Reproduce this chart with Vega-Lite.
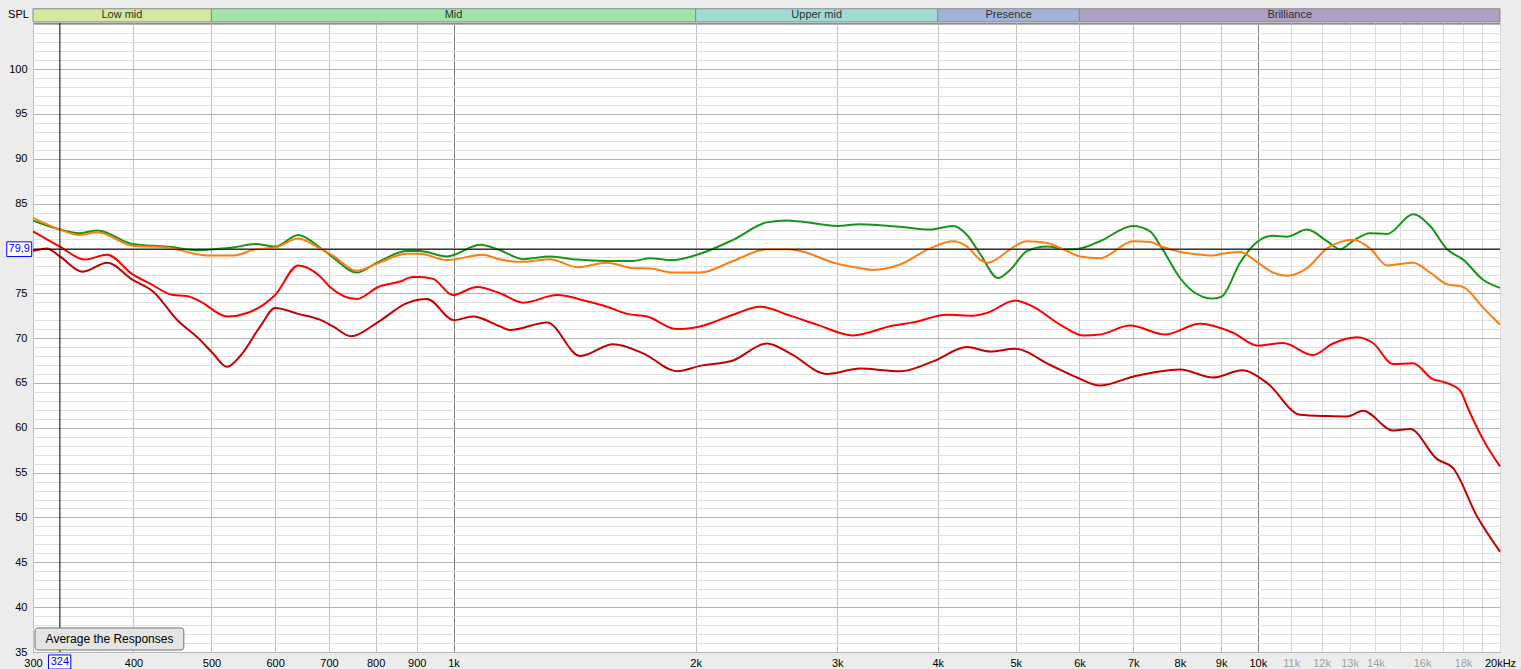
{
  "$schema": "https://vega.github.io/schema/vega-lite/v6.json",
  "width": 1467,
  "height": 629,
  "autosize": "none",
  "padding": {"left": 33, "top": 23, "right": 21, "bottom": 17},
  "background": "#ececec",
  "config": {
    "view": {"fill": "white", "stroke": "#8a8a8a", "strokeWidth": 1},
    "font": "Liberation Sans"
  },
  "resolve": {"axis": {"x": "independent", "y": "independent"}},
  "datasets": {
    "curves": [
      {"s":"g","f":300,"v":83.1},{"s":"g","f":324,"v":82.1},{"s":"g","f":343,"v":81.7},{"s":"g","f":361,"v":82.0},{"s":"g","f":399,"v":80.5},{"s":"g","f":440,"v":80.2},{"s":"g","f":484,"v":79.8},{"s":"g","f":502,"v":79.9},{"s":"g","f":532,"v":80.1},{"s":"g","f":567,"v":80.5},{"s":"g","f":600,"v":80.2},{"s":"g","f":641,"v":81.5},{"s":"g","f":682,"v":80.1},{"s":"g","f":708,"v":79.0},{"s":"g","f":758,"v":77.3},{"s":"g","f":803,"v":78.4},{"s":"g","f":875,"v":79.7},{"s":"g","f":908,"v":79.7},{"s":"g","f":981,"v":79.1},{"s":"g","f":1080,"v":80.4},{"s":"g","f":1142,"v":79.8},{"s":"g","f":1220,"v":78.8},{"s":"g","f":1318,"v":79.1},{"s":"g","f":1424,"v":78.75},{"s":"g","f":1552,"v":78.6},{"s":"g","f":1672,"v":78.6},{"s":"g","f":1755,"v":78.9},{"s":"g","f":1874,"v":78.7},{"s":"g","f":2025,"v":79.4},{"s":"g","f":2226,"v":80.95},{"s":"g","f":2453,"v":82.9},{"s":"g","f":2597,"v":83.1},{"s":"g","f":2696,"v":83.0},{"s":"g","f":2997,"v":82.5},{"s":"g","f":3202,"v":82.7},{"s":"g","f":3590,"v":82.4},{"s":"g","f":3912,"v":82.1},{"s":"g","f":4178,"v":82.5},{"s":"g","f":4349,"v":81.5},{"s":"g","f":4514,"v":79.4},{"s":"g","f":4753,"v":76.7},{"s":"g","f":4919,"v":77.6},{"s":"g","f":5164,"v":79.7},{"s":"g","f":5468,"v":80.2},{"s":"g","f":5791,"v":79.9},{"s":"g","f":6010,"v":80.0},{"s":"g","f":6363,"v":80.8},{"s":"g","f":6995,"v":82.5},{"s":"g","f":7344,"v":81.9},{"s":"g","f":7600,"v":80.0},{"s":"g","f":8003,"v":76.7},{"s":"g","f":8306,"v":75.2},{"s":"g","f":8795,"v":74.4},{"s":"g","f":9024,"v":74.65},{"s":"g","f":9502,"v":78.4},{"s":"g","f":10004,"v":80.8},{"s":"g","f":10443,"v":81.4},{"s":"g","f":10870,"v":81.3},{"s":"g","f":11512,"v":82.1},{"s":"g","f":12190,"v":80.8},{"s":"g","f":12653,"v":79.9},{"s":"g","f":13132,"v":80.85},{"s":"g","f":13787,"v":81.7},{"s":"g","f":14475,"v":81.6},{"s":"g","f":15594,"v":83.8},{"s":"g","f":16372,"v":82.5},{"s":"g","f":17189,"v":79.9},{"s":"g","f":17995,"v":78.75},{"s":"g","f":19056,"v":76.5},{"s":"g","f":20000,"v":75.6},

      {"s":"o","f":300,"v":83.4},{"s":"o","f":324,"v":82.1},{"s":"o","f":343,"v":81.5},{"s":"o","f":361,"v":81.8},{"s":"o","f":399,"v":80.3},{"s":"o","f":440,"v":80.1},{"s":"o","f":484,"v":79.3},{"s":"o","f":502,"v":79.2},{"s":"o","f":532,"v":79.2},{"s":"o","f":567,"v":79.9},{"s":"o","f":600,"v":80.1},{"s":"o","f":641,"v":81.1},{"s":"o","f":682,"v":80.0},{"s":"o","f":708,"v":79.2},{"s":"o","f":758,"v":77.5},{"s":"o","f":803,"v":78.3},{"s":"o","f":875,"v":79.4},{"s":"o","f":908,"v":79.4},{"s":"o","f":981,"v":78.7},{"s":"o","f":1088,"v":79.3},{"s":"o","f":1142,"v":78.75},{"s":"o","f":1220,"v":78.5},{"s":"o","f":1318,"v":78.8},{"s":"o","f":1424,"v":77.9},{"s":"o","f":1552,"v":78.4},{"s":"o","f":1672,"v":77.8},{"s":"o","f":1755,"v":77.75},{"s":"o","f":1874,"v":77.3},{"s":"o","f":2025,"v":77.3},{"s":"o","f":2226,"v":78.6},{"s":"o","f":2453,"v":79.9},{"s":"o","f":2597,"v":79.9},{"s":"o","f":2696,"v":79.7},{"s":"o","f":2997,"v":78.3},{"s":"o","f":3202,"v":77.8},{"s":"o","f":3323,"v":77.6},{"s":"o","f":3590,"v":78.2},{"s":"o","f":3912,"v":80.0},{"s":"o","f":4178,"v":80.8},{"s":"o","f":4349,"v":80.2},{"s":"o","f":4514,"v":78.75},{"s":"o","f":4618,"v":78.4},{"s":"o","f":4753,"v":78.9},{"s":"o","f":4919,"v":79.9},{"s":"o","f":5164,"v":80.8},{"s":"o","f":5468,"v":80.6},{"s":"o","f":5791,"v":79.7},{"s":"o","f":6010,"v":79.1},{"s":"o","f":6363,"v":78.9},{"s":"o","f":6995,"v":80.8},{"s":"o","f":7344,"v":80.7},{"s":"o","f":7600,"v":80.2},{"s":"o","f":8003,"v":79.6},{"s":"o","f":8306,"v":79.4},{"s":"o","f":8795,"v":79.2},{"s":"o","f":9024,"v":79.4},{"s":"o","f":9502,"v":79.6},{"s":"o","f":10004,"v":78.4},{"s":"o","f":10443,"v":77.3},{"s":"o","f":10870,"v":76.95},{"s":"o","f":11512,"v":77.8},{"s":"o","f":12190,"v":80.0},{"s":"o","f":12653,"v":80.7},{"s":"o","f":13132,"v":80.95},{"s":"o","f":13787,"v":80.0},{"s":"o","f":14475,"v":78.1},{"s":"o","f":15594,"v":78.4},{"s":"o","f":16372,"v":77.3},{"s":"o","f":17189,"v":76.0},{"s":"o","f":17995,"v":75.7},{"s":"o","f":19056,"v":73.4},{"s":"o","f":20000,"v":71.5},

      {"s":"r","f":300,"v":81.9},{"s":"r","f":324,"v":80.2},{"s":"r","f":348,"v":78.75},{"s":"r","f":371,"v":79.3},{"s":"r","f":399,"v":77.1},{"s":"r","f":419,"v":76.1},{"s":"r","f":448,"v":74.8},{"s":"r","f":466,"v":74.7},{"s":"r","f":484,"v":74.1},{"s":"r","f":523,"v":72.4},{"s":"r","f":554,"v":72.8},{"s":"r","f":580,"v":73.7},{"s":"r","f":600,"v":74.8},{"s":"r","f":641,"v":78.1},{"s":"r","f":682,"v":76.9},{"s":"r","f":702,"v":75.7},{"s":"r","f":758,"v":74.35},{"s":"r","f":806,"v":75.7},{"s":"r","f":858,"v":76.3},{"s":"r","f":890,"v":76.8},{"s":"r","f":908,"v":76.8},{"s":"r","f":943,"v":76.6},{"s":"r","f":998,"v":74.8},{"s":"r","f":1069,"v":75.7},{"s":"r","f":1142,"v":75.0},{"s":"r","f":1220,"v":73.95},{"s":"r","f":1345,"v":74.8},{"s":"r","f":1466,"v":74.1},{"s":"r","f":1552,"v":73.5},{"s":"r","f":1644,"v":72.7},{"s":"r","f":1740,"v":72.4},{"s":"r","f":1896,"v":71.0},{"s":"r","f":2025,"v":71.3},{"s":"r","f":2226,"v":72.6},{"s":"r","f":2404,"v":73.5},{"s":"r","f":2620,"v":72.5},{"s":"r","f":2830,"v":71.5},{"s":"r","f":3138,"v":70.3},{"s":"r","f":3519,"v":71.4},{"s":"r","f":3726,"v":71.75},{"s":"r","f":4107,"v":72.6},{"s":"r","f":4424,"v":72.5},{"s":"r","f":4605,"v":72.8},{"s":"r","f":4990,"v":74.2},{"s":"r","f":5254,"v":73.5},{"s":"r","f":5676,"v":71.5},{"s":"r","f":6062,"v":70.3},{"s":"r","f":6363,"v":70.4},{"s":"r","f":6935,"v":71.4},{"s":"r","f":7666,"v":70.4},{"s":"r","f":8474,"v":71.6},{"s":"r","f":9313,"v":70.6},{"s":"r","f":10004,"v":69.15},{"s":"r","f":10747,"v":69.45},{"s":"r","f":11711,"v":68.1},{"s":"r","f":12401,"v":69.4},{"s":"r","f":13283,"v":70.1},{"s":"r","f":13906,"v":69.45},{"s":"r","f":14726,"v":67.1},{"s":"r","f":15594,"v":67.2},{"s":"r","f":16513,"v":65.4},{"s":"r","f":16849,"v":65.2},{"s":"r","f":17487,"v":64.7},{"s":"r","f":17892,"v":64.0},{"s":"r","f":18202,"v":62.4},{"s":"r","f":19056,"v":58.7},{"s":"r","f":20000,"v":55.7},

      {"s":"d","f":300,"v":79.7},{"s":"d","f":312,"v":80.0},{"s":"d","f":324,"v":79.1},{"s":"d","f":346,"v":77.4},{"s":"d","f":371,"v":78.4},{"s":"d","f":399,"v":76.5},{"s":"d","f":423,"v":75.2},{"s":"d","f":453,"v":72.05},{"s":"d","f":484,"v":69.8},{"s":"d","f":502,"v":68.3},{"s":"d","f":523,"v":66.8},{"s":"d","f":543,"v":68.0},{"s":"d","f":575,"v":71.3},{"s":"d","f":600,"v":73.35},{"s":"d","f":641,"v":72.7},{"s":"d","f":682,"v":72.05},{"s":"d","f":708,"v":71.3},{"s":"d","f":746,"v":70.2},{"s":"d","f":803,"v":71.7},{"s":"d","f":875,"v":73.9},{"s":"d","f":908,"v":74.3},{"s":"d","f":927,"v":74.35},{"s":"d","f":1001,"v":72.0},{"s":"d","f":1057,"v":72.4},{"s":"d","f":1142,"v":71.3},{"s":"d","f":1175,"v":70.9},{"s":"d","f":1307,"v":71.75},{"s":"d","f":1437,"v":68.0},{"s":"d","f":1579,"v":69.3},{"s":"d","f":1721,"v":68.3},{"s":"d","f":1896,"v":66.3},{"s":"d","f":2025,"v":66.9},{"s":"d","f":2226,"v":67.5},{"s":"d","f":2453,"v":69.4},{"s":"d","f":2620,"v":68.3},{"s":"d","f":2913,"v":66.0},{"s":"d","f":3202,"v":66.6},{"s":"d","f":3590,"v":66.3},{"s":"d","f":3946,"v":67.4},{"s":"d","f":4349,"v":69.0},{"s":"d","f":4645,"v":68.5},{"s":"d","f":4990,"v":68.8},{"s":"d","f":5516,"v":67.0},{"s":"d","f":5959,"v":65.6},{"s":"d","f":6363,"v":64.7},{"s":"d","f":6995,"v":65.7},{"s":"d","f":8003,"v":66.5},{"s":"d","f":8795,"v":65.6},{"s":"d","f":9556,"v":66.4},{"s":"d","f":10265,"v":65.0},{"s":"d","f":11283,"v":61.45},{"s":"d","f":12190,"v":61.3},{"s":"d","f":12909,"v":61.25},{"s":"d","f":13514,"v":61.9},{"s":"d","f":14726,"v":59.7},{"s":"d","f":15461,"v":59.85},{"s":"d","f":16704,"v":56.5},{"s":"d","f":17487,"v":55.5},{"s":"d","f":18731,"v":50.1},{"s":"d","f":20000,"v":46.2}
    ],
    "bands": [
      {"b":"Low mid","f1":300,"f2":500,"fc":387},
      {"b":"Mid","f1":500,"f2":2000,"fc":1000},
      {"b":"Upper mid","f1":2000,"f2":4000,"fc":2828},
      {"b":"Presence","f1":4000,"f2":6000,"fc":4899},
      {"b":"Brilliance","f1":6000,"f2":20000,"fc":10954}
    ],
    "cursor": [{"cf":324,"cv":79.9}]
  },
  "layer": [
    {
      "data": {"name": "curves"},
      "mark": {"type": "line", "interpolate": "monotone", "strokeWidth": 2},
      "encoding": {
        "x": {
          "field": "f", "type": "quantitative",
          "scale": {"type": "log", "domain": [300, 20000], "nice": false},
          "axis": {
            "title": null, "orient": "bottom",
            "values": [300,400,500,600,700,800,900,1000,2000,3000,4000,5000,6000,7000,8000,9000,10000,11000,12000,13000,14000,15000,16000,17000,18000,19000,20000],
            "labelExpr": "datum.value == 20000 ? '20kHz' : (datum.value == 15000 || datum.value == 17000 || datum.value == 19000) ? '' : datum.value >= 1000 ? (datum.value / 1000) + 'k' : '' + datum.value",
            "ticks": false, "domain": false,
            "labelPadding": 5, "labelFontSize": 11,
            "labelFont": "'Liberation Sans Narrow', 'Liberation Sans'",
            "labelOverlap": false, "labelFlush": false, "labelBound": false,
            "labelColor": {"condition": {"test": "datum.value > 10000 && datum.value < 20000", "value": "#a0a0a0"}, "value": "#000000"},
            "grid": true,
            "gridColor": {"condition": [{"test": "datum.value == 1000 || datum.value == 10000", "value": "#808080"}, {"test": "datum.value > 10000", "value": "#dadada"}], "value": "#c2c2c2"}
          }
        },
        "y": {
          "field": "v", "type": "quantitative",
          "scale": {"domain": [35, 105.13], "nice": false, "zero": false},
          "axis": {
            "orient": "left",
            "title": "SPL", "titleAngle": 0, "titleX": -15, "titleY": -9,
            "titleAlign": "center", "titleBaseline": "middle",
            "titleFontSize": 11, "titleFontWeight": "normal", "titleColor": "#000000",
            "values": [35,36,37,38,39,40,41,42,43,44,45,46,47,48,49,50,51,52,53,54,55,56,57,58,59,60,61,62,63,64,65,66,67,68,69,70,71,72,73,74,75,76,77,78,79,80,81,82,83,84,85,86,87,88,89,90,91,92,93,94,95,96,97,98,99,100,101,102,103,104,105],
            "labelExpr": "(datum.value % 5 == 0 && datum.value <= 100 && datum.value != 80) ? '' + datum.value : ''",
            "ticks": false, "domain": false,
            "labelPadding": 6, "labelFontSize": 11, "labelColor": "#000000",
            "labelOverlap": false, "labelFlush": false, "labelBound": false,
            "grid": true,
            "gridColor": {"condition": {"test": "datum.value % 5 == 0", "value": "#b4b4b4"}, "value": "#e0e0e0"}
          }
        },
        "color": {
          "field": "s", "type": "nominal",
          "scale": {"domain": ["g","o","r","d"], "range": ["#179517","#ff7d10","#ff0000","#c40000"]},
          "legend": null
        }
      }
    },
    {
      "data": {"name": "cursor"},
      "mark": {"type": "rule", "color": "#000000", "strokeWidth": 1},
      "encoding": {"x": {"field": "cf", "type": "quantitative", "axis": null}}
    },
    {
      "data": {"name": "cursor"},
      "mark": {"type": "rule", "color": "#000000", "strokeWidth": 1},
      "encoding": {"y": {"field": "cv", "type": "quantitative", "axis": null}}
    },
    {
      "data": {"name": "bands"},
      "mark": {"type": "rect", "stroke": "#8a8a8a", "strokeWidth": 1},
      "encoding": {
        "x": {"field": "f1", "type": "quantitative", "axis": null},
        "x2": {"field": "f2"},
        "y": {"datum": 105.25, "axis": null},
        "y2": {"datum": 106.72},
        "fill": {
          "field": "b", "type": "nominal",
          "scale": {"domain": ["Low mid","Mid","Upper mid","Presence","Brilliance"], "range": ["#d3e99d","#a1e4a9","#a0dcd6","#a0b4d9","#b09fc3"]},
          "legend": null
        }
      }
    },
    {
      "data": {"name": "bands"},
      "mark": {"type": "text", "fontSize": 11, "color": "#303030", "baseline": "middle", "align": "center"},
      "encoding": {
        "x": {"field": "fc", "type": "quantitative", "axis": null},
        "y": {"datum": 106.0, "axis": null},
        "text": {"field": "b"}
      }
    },
    {
      "data": {"name": "cursor"},
      "mark": {"type": "rect", "fill": "#ffffff", "stroke": "#0000ff", "strokeWidth": 1},
      "encoding": {
        "x": {"datum": 278.3, "axis": null}, "x2": {"datum": 298.9},
        "y": {"datum": 80.73, "axis": null}, "y2": {"datum": 79.09}
      }
    },
    {
      "data": {"name": "cursor"},
      "mark": {"type": "text", "fontSize": 11, "color": "#0000ff", "baseline": "middle", "align": "center"},
      "encoding": {
        "x": {"datum": 288.4, "axis": null}, "y": {"field": "cv", "type": "quantitative", "axis": null},
        "text": {"value": "79,9"}
      }
    },
    {
      "data": {"name": "cursor"},
      "mark": {"type": "rect", "fill": "#ffffff", "stroke": "#0000ff", "strokeWidth": 1},
      "encoding": {
        "x": {"datum": 313.6, "axis": null}, "x2": {"datum": 334.3},
        "y": {"datum": 34.67, "axis": null}, "y2": {"datum": 33.1}
      }
    },
    {
      "data": {"name": "cursor"},
      "mark": {"type": "text", "fontSize": 11, "color": "#0000ff", "baseline": "middle", "align": "center", "font": "'Liberation Sans Narrow', 'Liberation Sans'"},
      "encoding": {
        "x": {"field": "cf", "type": "quantitative", "axis": null}, "y": {"datum": 33.88, "axis": null},
        "text": {"field": "cf", "type": "quantitative"}
      }
    },
    {
      "data": {"name": "cursor"},
      "mark": {"type": "rect", "fill": "#e4e4e4", "stroke": "#6e6e6e", "strokeWidth": 1, "cornerRadius": 3},
      "encoding": {
        "x": {"datum": 301.7, "axis": null}, "x2": {"datum": 462},
        "y": {"datum": 37.68, "axis": null}, "y2": {"datum": 35.22}
      }
    },
    {
      "data": {"name": "cursor"},
      "mark": {"type": "text", "fontSize": 12, "color": "#000000", "baseline": "middle", "align": "center"},
      "encoding": {
        "x": {"datum": 373.5, "axis": null}, "y": {"datum": 36.45, "axis": null},
        "text": {"value": "Average the Responses"}
      }
    }
  ]
}
